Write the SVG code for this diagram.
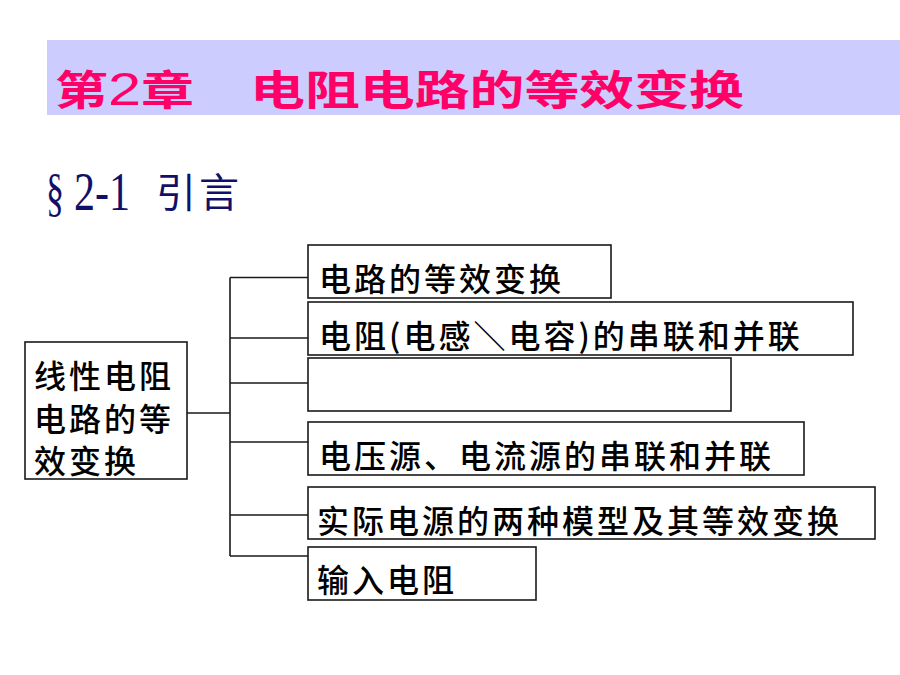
<svg xmlns="http://www.w3.org/2000/svg" width="900" height="675" viewBox="0 0 900 675">
<style>
.box{fill:#ffffff;stroke:#1a1a1a;stroke-width:1.6}
.conn{fill:none;stroke:#1a1a1a;stroke-width:1.6}
.t{font-family:"Noto Sans CJK SC","Noto Sans CJK TC",sans-serif;font-size:32px;font-weight:500;fill:#000;letter-spacing:3px}
.title{font-family:"Noto Sans CJK SC",sans-serif;font-size:41px;font-weight:bold;fill:#ff0066}
.sec{fill:#10106a}
</style>
<rect width="900" height="675" fill="#ffffff"/>
<g id="header">
<rect x="47" y="40" width="853" height="75" fill="#ccccff"/>
<text class="title" x="55" y="105" textLength="139" lengthAdjust="spacingAndGlyphs">第<tspan font-family="Liberation Sans, sans-serif" font-weight="normal" font-size="46">2</tspan>章</text>
<text class="title" x="250" y="105" textLength="494" lengthAdjust="spacingAndGlyphs">电阻电路的等效变换</text>
</g>
<g id="section">
<text class="sec" x="46" y="210" font-family="Liberation Serif, serif" font-size="52" textLength="18" lengthAdjust="spacingAndGlyphs">§</text>
<text class="sec" x="74" y="210" font-family="Liberation Serif, serif" font-size="54" textLength="56" lengthAdjust="spacingAndGlyphs">2-1</text>
<text class="sec" x="156" y="207" font-family="Noto Sans CJK SC, sans-serif" font-size="40" letter-spacing="3">引言</text>
</g>
<g id="connectors">
<path class="conn" d="M187,413 H230 M230,277.5 V556 M230,277.5 H308 M230,338 H308 M230,383 H308 M230,442 H308 M230,515 H308 M230,556 H308"/>
</g>
<g id="root">
<rect class="box" x="25" y="342" width="162" height="137"/>
<text class="t" x="34" y="388">线性电阻</text>
<text class="t" x="34" y="431">电路的等</text>
<text class="t" x="34" y="473">效变换</text>
</g>
<g id="n1">
<rect class="box" x="308" y="245" width="303" height="53"/>
<text class="t" x="319" y="291">电路的等效变换</text>
</g>
<g id="n2">
<rect class="box" x="308" y="302" width="545" height="53"/>
<text class="t" x="319" y="348">电阻(电感＼电容)的串联和并联</text>
</g>
<g id="n3">
<rect class="box" x="308" y="358" width="423" height="53"/>
</g>
<g id="n4">
<rect class="box" x="308" y="422" width="496" height="53"/>
<text class="t" x="319" y="468">电压源、电流源的串联和并联</text>
</g>
<g id="n5">
<rect class="box" x="308" y="487" width="567" height="52"/>
<text class="t" x="317" y="533">实际电源的两种模型及其等效变换</text>
</g>
<g id="n6">
<rect class="box" x="308" y="547" width="228" height="53"/>
<text class="t" x="317" y="592">输入电阻</text>
</g>
</svg>
